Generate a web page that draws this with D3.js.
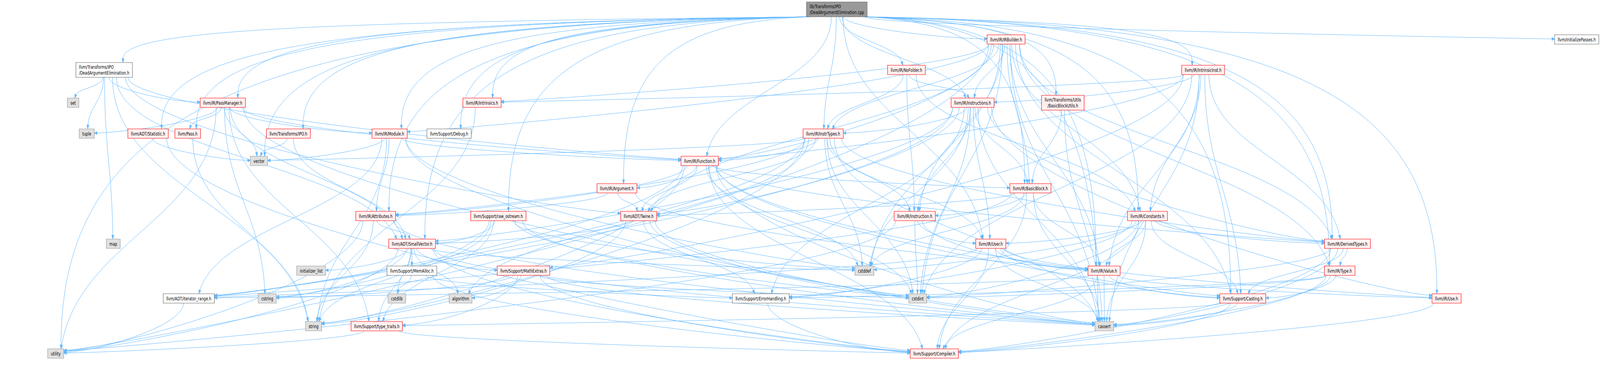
<!DOCTYPE html>
<html><head><meta charset="utf-8">
<script src="https://cdn.jsdelivr.net/npm/d3@7"></script>
<style>html,body{margin:0;padding:0;background:#fff;overflow:hidden;width:100%;height:100%;}svg{display:block;}</style>
</head><body><svg id="chart"></svg>
<script>
// ---------------- data ----------------
const nodeIds = ["root","IRBuilder","InitializePasses","DAE_h","NoFolder","IntrinsicInst",
 "set","PassManager","Intrinsics","Instructions","BBUtils",
 "tuple","Statistic","Pass","IPO","Module","Debug","InstrTypes",
 "vector","Function","Argument","BasicBlock",
 "Attributes","raw_ostream","Twine","Instruction","Constants",
 "map","SmallVector","User","DerivedTypes",
 "initializer_list","MemAlloc","MathExtras","cstddef","Value","Type",
 "iterator_range","cstring","cstdlib","algorithm","ErrorHandling","cstdint","Casting","Use",
 "string","type_traits","cassert","utility","Compiler"];
const nodeLabels = ["lib/Transforms/IPO\n/DeadArgumentElimination.cpp","llvm/IR/IRBuilder.h","llvm/InitializePasses.h",
 "llvm/Transforms/IPO\n/DeadArgumentElimination.h","llvm/IR/NoFolder.h","llvm/IR/IntrinsicInst.h",
 "set","llvm/IR/PassManager.h","llvm/IR/Intrinsics.h","llvm/IR/Instructions.h","llvm/Transforms/Utils\n/BasicBlockUtils.h",
 "tuple","llvm/ADT/Statistic.h","llvm/Pass.h","llvm/Transforms/IPO.h","llvm/IR/Module.h","llvm/Support/Debug.h","llvm/IR/InstrTypes.h",
 "vector","llvm/IR/Function.h","llvm/IR/Argument.h","llvm/IR/BasicBlock.h",
 "llvm/IR/Attributes.h","llvm/Support/raw_ostream.h","llvm/ADT/Twine.h","llvm/IR/Instruction.h","llvm/IR/Constants.h",
 "map","llvm/ADT/SmallVector.h","llvm/IR/User.h","llvm/IR/DerivedTypes.h",
 "initializer_list","llvm/Support/MemAlloc.h","llvm/Support/MathExtras.h","cstddef","llvm/IR/Value.h","llvm/IR/Type.h",
 "llvm/ADT/iterator_range.h","cstring","cstdlib","algorithm","llvm/Support/ErrorHandling.h","cstdint","llvm/Support/Casting.h","llvm/IR/Use.h",
 "string","llvm/Support/type_traits.h","cassert","utility","llvm/Support/Compiler.h"];
const nodeKinds = ["source","truncated","documented","documented","truncated","truncated",
 "system","truncated","truncated","truncated","truncated",
 "system","truncated","truncated","truncated","truncated","documented","truncated",
 "system","truncated","truncated","truncated",
 "truncated","truncated","truncated","truncated","truncated",
 "system","truncated","truncated","truncated",
 "system","documented","truncated","system","truncated","truncated",
 "documented","system","system","system","documented","system","truncated","truncated",
 "system","truncated","system","system","truncated"];
const nodeRanks = [0,1,1,2,2,2, 3,3,3,3,3, 4,4,4,4,4,4,4, 5,5,6,6, 7,7,7,7,7, 8,8,8,8,
 9,9,9,9,9,9, 10,10,10,10,10,10,10,10, 11,11,11,12,12];
// horizontal layout coordinate of each node (5975-wide frame)
const nodeColumns = [3125,3757,5888,389,3385,4493, 273,832,1800,3632,3969,
 324,553,701,1077,1455,1677,3074, 967,2613,2304,3848,
 1403,1861,2385,3416,4285, 423,1539,3700,5032,
 1162,1538,1955,3228,4123,5003,
 705,998,1482,1720,2841,3427,4641,5402,
 1171,1407,4124,208,3489];
// vertical layout coordinate of each rank (960-high frame)
const rankLevels = [24,101,179,263,342,412,482,553,624,693,764,835,905];

const includes = [
 ["root","DAE_h"],["root","SmallVector"],["root","Statistic"],["root","Argument"],["root","Attributes"],["root","BasicBlock"],
 ["root","Constants"],["root","DerivedTypes"],["root","Function"],["root","IRBuilder"],["root","InstrTypes"],["root","Instructions"],
 ["root","IntrinsicInst"],["root","Intrinsics"],["root","Module"],["root","NoFolder"],["root","PassManager"],["root","Type"],
 ["root","Use"],["root","User"],["root","Value"],["root","InitializePasses"],["root","Pass"],["root","Casting"],["root","Debug"],
 ["root","raw_ostream"],["root","IPO"],["root","BBUtils"],["root","cassert"],["root","utility"],["root","vector"],
 ["IRBuilder","Twine"],["IRBuilder","BasicBlock"],["IRBuilder","Constants"],["IRBuilder","DerivedTypes"],["IRBuilder","Function"],
 ["IRBuilder","InstrTypes"],["IRBuilder","Instruction"],["IRBuilder","Instructions"],["IRBuilder","Intrinsics"],["IRBuilder","Module"],
 ["IRBuilder","Type"],["IRBuilder","Value"],["IRBuilder","Casting"],["IRBuilder","cassert"],["IRBuilder","cstdint"],["IRBuilder","cstddef"],["IRBuilder","utility"],
 ["NoFolder","Constants"],["NoFolder","InstrTypes"],["NoFolder","Instruction"],["NoFolder","Instructions"],
 ["IntrinsicInst","Constants"],["IntrinsicInst","DerivedTypes"],["IntrinsicInst","Function"],["IntrinsicInst","Instructions"],
 ["IntrinsicInst","Intrinsics"],["IntrinsicInst","Value"],["IntrinsicInst","Casting"],["IntrinsicInst","MathExtras"],
 ["IntrinsicInst","cassert"],["IntrinsicInst","cstdint"],
 ["DAE_h","SmallVector"],["DAE_h","Twine"],["DAE_h","Function"],["DAE_h","PassManager"],["DAE_h","map"],["DAE_h","set"],
 ["DAE_h","string"],["DAE_h","tuple"],
 ["Instructions","SmallVector"],["Instructions","Twine"],["Instructions","iterator_range"],["Instructions","DerivedTypes"],
 ["Instructions","InstrTypes"],["Instructions","Instruction"],["Instructions","Use"],["Instructions","User"],["Instructions","BasicBlock"],
 ["Instructions","ErrorHandling"],["Instructions","cassert"],["Instructions","cstddef"],["Instructions","cstdint"],
 ["BBUtils","BasicBlock"],["BBUtils","cassert"],
 ["PassManager","SmallVector"],["PassManager","Function"],["PassManager","Module"],["PassManager","Pass"],["PassManager","cassert"],
 ["PassManager","cstring"],["PassManager","tuple"],["PassManager","type_traits"],["PassManager","utility"],["PassManager","vector"],
 ["Intrinsics","string"],
 ["InstrTypes","Twine"],["InstrTypes","iterator_range"],["InstrTypes","Attributes"],["InstrTypes","DerivedTypes"],["InstrTypes","Function"],
 ["InstrTypes","Instruction"],["InstrTypes","User"],["InstrTypes","algorithm"],["InstrTypes","cassert"],["InstrTypes","cstddef"],
 ["InstrTypes","cstdint"],["InstrTypes","string"],["InstrTypes","vector"],
 ["Statistic","Compiler"],["Statistic","vector"],
 ["Pass","string"],
 ["IPO","SmallVector"],["IPO","vector"],
 ["Module","iterator_range"],["Module","Attributes"],["Module","Function"],["Module","cstddef"],["Module","cstdint"],["Module","string"],["Module","vector"],
 ["Function","Twine"],["Function","iterator_range"],["Function","Argument"],["Function","Attributes"],["Function","BasicBlock"],
 ["Function","DerivedTypes"],["Function","Value"],["Function","Casting"],["Function","Compiler"],["Function","cassert"],
 ["Function","cstddef"],["Function","cstdint"],["Function","string"],
 ["Argument","Twine"],["Argument","Attributes"],["Argument","Value"],
 ["BasicBlock","Twine"],["BasicBlock","iterator_range"],["BasicBlock","Instruction"],["BasicBlock","Value"],["BasicBlock","Compiler"],
 ["BasicBlock","cassert"],["BasicBlock","cstddef"],
 ["Attributes","SmallVector"],["Attributes","cassert"],["Attributes","string"],["Attributes","utility"],
 ["raw_ostream","SmallVector"],["raw_ostream","cassert"],["raw_ostream","cstddef"],["raw_ostream","cstdint"],["raw_ostream","cstring"],
 ["raw_ostream","string"],["raw_ostream","type_traits"],
 ["Twine","SmallVector"],["Twine","ErrorHandling"],["Twine","cassert"],["Twine","cstdint"],["Twine","string"],
 ["Instruction","User"],["Instruction","Value"],["Instruction","cstdint"],["Instruction","utility"],
 ["Constants","DerivedTypes"],["Constants","User"],["Constants","Value"],["Constants","Casting"],["Constants","Compiler"],
 ["Constants","ErrorHandling"],["Constants","cassert"],["Constants","cstddef"],["Constants","cstdint"],
 ["SmallVector","Compiler"],["SmallVector","type_traits"],["SmallVector","algorithm"],["SmallVector","cassert"],["SmallVector","cstddef"],
 ["SmallVector","cstdlib"],["SmallVector","cstring"],["SmallVector","initializer_list"],["SmallVector","MemAlloc"],["SmallVector","utility"],
 ["SmallVector","MathExtras"],
 ["User","iterator_range"],["User","Use"],["User","Value"],["User","Casting"],["User","Compiler"],["User","ErrorHandling"],["User","cassert"],
 ["DerivedTypes","Type"],["DerivedTypes","Casting"],["DerivedTypes","Compiler"],["DerivedTypes","cassert"],["DerivedTypes","cstdint"],
 ["MemAlloc","Compiler"],["MemAlloc","ErrorHandling"],["MemAlloc","cstdlib"],
 ["MathExtras","Compiler"],["MathExtras","algorithm"],["MathExtras","cassert"],["MathExtras","cstdint"],["MathExtras","cstring"],["MathExtras","type_traits"],
 ["Value","iterator_range"],["Value","Use"],["Value","Casting"],["Value","Compiler"],["Value","cassert"],
 ["Type","Casting"],["Type","Compiler"],["Type","ErrorHandling"],["Type","cassert"],["Type","cstdint"],
 ["iterator_range","utility"],
 ["ErrorHandling","Compiler"],
 ["Casting","Compiler"],["Casting","type_traits"],["Casting","cassert"],
 ["Use","Compiler"],
 ["type_traits","Compiler"],["type_traits","utility"]
];

// ---------------- drawing ----------------
const W = 5975, H = 960;
const vw = window.innerWidth || W, vh = window.innerHeight || H;
// the whole 5975x960 frame is fitted onto the window
const svg = d3.select("#chart").attr("width", vw).attr("height", vh)
  .attr("viewBox", `0 0 ${W} ${H}`).attr("preserveAspectRatio", "none");
const x = d3.scaleLinear().domain([0, 5975]).range([0, W]);
const y = d3.scaleLinear().domain(d3.range(rankLevels.length)).range(rankLevels);
const fillOf = d3.scaleOrdinal().domain(["source","truncated","documented","system"])
  .range(["#999999","#fff0f0","#ffffff","#e0e0e0"]);
const strokeOf = d3.scaleOrdinal().domain(["source","truncated","documented","system"])
  .range(["#666666","#ff0000","#666666","#999999"]);

const FONT = 13, PAD = 11.5, LINE = 14.5;
const nodes = nodeIds.map((id, i) => ({
  id, lines: nodeLabels[i].split("\n"), kind: nodeKinds[i], rank: nodeRanks[i],
  cx: x(nodeColumns[i]), cy: y(nodeRanks[i])
}));
const byId = new Map(nodes.map(n => [n.id, n]));

const gEdges = svg.append("g");
const gNodes = svg.append("g");

const ng = gNodes.selectAll("g").data(nodes).join("g");
ng.each(function(d) {
  const g = d3.select(this);
  const texts = d.lines.map((ln) => g.append("text")
    .attr("font-family", "'DejaVu Sans', sans-serif").attr("font-size", FONT)
    .attr("fill", "#000").text(ln));
  const widths = texts.map(t => t.node().getComputedTextLength());
  const tw = d3.max(widths);
  d.w = tw + 2 * PAD;
  d.h = d.lines.length === 1 ? 24 : 10 + LINE * d.lines.length - 1;
  const leftAlign = d.lines.length > 1 && widths[0] < widths[1];
  const top = d.cy - (LINE * d.lines.length) / 2;
  texts.forEach((t, k) => {
    const ty = top + LINE * k + LINE / 2;
    if (leftAlign) t.attr("x", d.cx - d.w / 2 + PAD).attr("text-anchor", "start");
    else t.attr("x", d.cx).attr("text-anchor", "middle");
    t.attr("y", ty).attr("dy", "0.36em");
  });
  g.insert("rect", "text")
    .attr("x", d.cx - d.w / 2).attr("y", d.cy - d.h / 2)
    .attr("width", d.w).attr("height", d.h)
    .attr("fill", fillOf(d.kind)).attr("stroke", strokeOf(d.kind))
    .attr("stroke-width", 1.1).attr("vector-effect", "non-scaling-stroke");
});

const edges = includes.map(([a, b]) => ({ s: byId.get(a), t: byId.get(b) }));
const clamp = (v, lo, hi) => Math.max(lo, Math.min(hi, v));
edges.forEach(e => {
  const s = e.s, t = e.t;
  const dx = t.cx - s.cx;
  let sx = s.cx + clamp(dx * 0.04, -s.w / 2 + 6, s.w / 2 - 6);
  let sy = s.cy + s.h / 2;
  const dyC = t.cy - sy;
  let ex, ey, c1x, c1y, c2x, c2y;
  const fromTop = s.rank === 0 && Math.abs(dx) > 700;
  if (fromTop && t.rank > 1) {
    // long edges from the source file run along the top band, then drop down
    const side = dx > 0 ? 1 : -1;
    sx = s.cx + side * (s.w / 2 - 12); sy = s.cy + s.h / 2;
    ex = t.cx - clamp(dx * 0.03, -t.w / 3, t.w / 3); ey = t.cy - t.h / 2;
    c1x = sx + (ex - sx) * 0.75; c1y = sy + 14;
    c2x = ex; c2y = sy + (ey - sy) * 0.3;
  } else if (Math.abs(dx) - t.w / 2 > 3.2 * dyC) {
    const side = dx > 0 ? -1 : 1;
    ex = t.cx + side * t.w / 2; ey = t.cy + clamp(-dyC * 0.02, -t.h / 3, t.h / 3);
    c1x = sx; c1y = sy + (ey - sy) * 0.45;
    c2x = ex + side * Math.min(Math.abs(dx) * 0.3, 220); c2y = ey - Math.min(dyC * 0.05, 8);
  } else {
    ex = t.cx - clamp(dx * 0.05, -t.w / 3, t.w / 3); ey = t.cy - t.h / 2;
    c1x = sx; c1y = sy + (ey - sy) * 0.45;
    c2x = ex - (ex - sx) * 0.12; c2y = ey - (ey - sy) * 0.45;
  }
  let ux = ex - c2x, uy = ey - c2y;
  const L = Math.hypot(ux, uy) || 1; ux /= L; uy /= L;
  const AL = 10, AW = 4;
  const bx = ex - ux * AL, by = ey - uy * AL;
  const p = d3.path();
  p.moveTo(sx, sy);
  p.bezierCurveTo(c1x, c1y, c2x, c2y, bx, by);
  e.path = p.toString();
  e.arrow = [[ex, ey], [bx - uy * AW, by + ux * AW], [bx + uy * AW, by - ux * AW]];
});

gEdges.selectAll("path.edge").data(edges).join("path").attr("class", "edge")
  .attr("d", d => d.path).attr("fill", "none").attr("stroke", "#63b8ff")
  .attr("stroke-width", 1).attr("vector-effect", "non-scaling-stroke");
gEdges.selectAll("path.head").data(edges).join("path").attr("class", "head")
  .attr("d", d => "M" + d.arrow.map(p => p.join(",")).join("L") + "Z")
  .attr("fill", "#63b8ff").attr("stroke", "#63b8ff").attr("stroke-width", 1)
  .attr("vector-effect", "non-scaling-stroke");
</script>
</body></html>
